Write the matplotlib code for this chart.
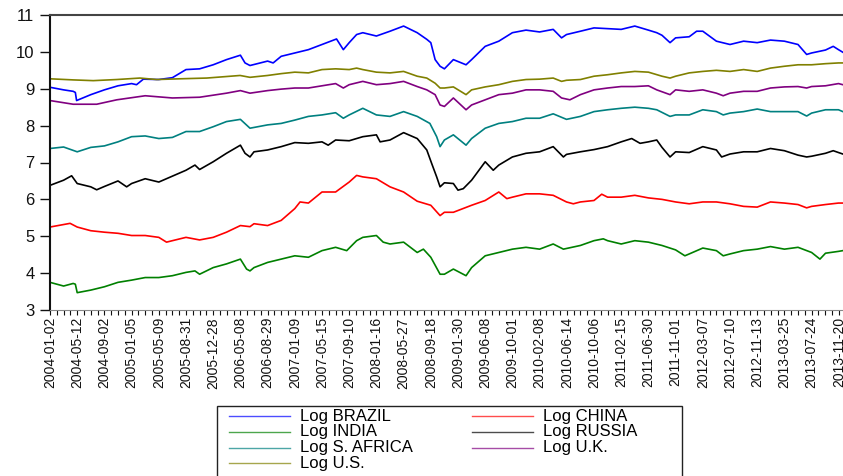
import numpy as np
import matplotlib
matplotlib.use("Agg")
import matplotlib.pyplot as plt
from matplotlib.lines import Line2D
from matplotlib.patches import Rectangle

plt.rcParams['font.family'] = ['Liberation Sans', 'DejaVu Sans']

# observation index (trading days) of each label, one label every 88 obs
tick_labels = [
    "2004-01-02", "2004-05-12", "2004-09-02", "2005-01-05", "2005-05-09",
    "2005-08-31", "2005-12-28", "2006-05-08", "2006-08-29", "2007-01-09",
    "2007-05-15", "2007-09-10", "2008-01-16", "2008-05-27", "2008-09-18",
    "2009-01-30", "2009-06-08", "2009-10-01", "2010-02-08", "2010-06-14",
    "2010-10-06", "2011-02-15", "2011-06-30", "2011-11-01", "2012-03-07",
    "2012-07-10", "2012-11-13", "2013-03-25", "2013-07-24", "2013-11-20",
]
obs_per_label = 88

brazil_obs = [0, 44, 75, 82, 86, 132, 176, 220, 264, 280, 302, 352, 396, 440, 484, 528, 571, 616,
              631, 647, 704, 722, 748, 792, 836, 880, 927, 949, 968, 992, 1012, 1056, 1100, 1144,
              1188, 1219, 1232, 1246, 1262, 1276, 1305, 1346, 1364, 1408, 1452, 1496, 1540, 1584,
              1628, 1655, 1671, 1716, 1760, 1804, 1848, 1892, 1936, 1963, 1980, 2006, 2024, 2068,
              2092, 2112, 2156, 2200, 2244, 2288, 2331, 2376, 2420, 2448, 2464, 2509, 2534, 2551, 2565]
brazil_val = [9.04, 8.97, 8.93, 8.90, 8.68, 8.84, 8.97, 9.08, 9.14, 9.11, 9.26, 9.25, 9.30, 9.52,
              9.54, 9.65, 9.79, 9.91, 9.70, 9.63, 9.75, 9.70, 9.88, 9.97, 10.06, 10.20, 10.35, 10.06,
              10.25, 10.47, 10.52, 10.43, 10.56, 10.70, 10.52, 10.34, 10.25, 9.79, 9.61, 9.54, 9.79,
              9.65, 9.79, 10.15, 10.29, 10.52, 10.59, 10.54, 10.61, 10.38, 10.47, 10.56, 10.65, 10.63,
              10.61, 10.70, 10.59, 10.52, 10.45, 10.25, 10.38, 10.41, 10.56, 10.56, 10.29, 10.20,
              10.29, 10.25, 10.32, 10.29, 10.20, 9.93, 9.97, 10.05, 10.15, 10.06, 9.99]

china_obs = [0, 65, 88, 132, 176, 220, 264, 308, 352, 377, 396, 440, 484, 528, 571, 616, 647, 660,
             704, 748, 792, 809, 836, 880, 924, 968, 992, 1012, 1056, 1100, 1144, 1188, 1232, 1262,
             1276, 1305, 1364, 1408, 1452, 1478, 1496, 1540, 1584, 1628, 1671, 1693, 1716, 1760,
             1785, 1804, 1848, 1892, 1936, 1980, 2024, 2068, 2112, 2156, 2200, 2244, 2288, 2331,
             2376, 2420, 2448, 2464, 2509, 2551, 2565]
china_val = [5.25, 5.35, 5.25, 5.15, 5.11, 5.08, 5.02, 5.02, 4.97, 4.84, 4.88, 4.97, 4.90, 4.97,
             5.11, 5.29, 5.26, 5.34, 5.29, 5.43, 5.75, 5.93, 5.90, 6.20, 6.20, 6.47, 6.65, 6.61,
             6.56, 6.34, 6.20, 5.95, 5.84, 5.56, 5.65, 5.65, 5.84, 5.97, 6.20, 6.02, 6.06, 6.15,
             6.15, 6.11, 5.93, 5.88, 5.93, 5.97, 6.14, 6.06, 6.06, 6.11, 6.04, 6.00, 5.93, 5.88,
             5.93, 5.93, 5.88, 5.81, 5.79, 5.93, 5.90, 5.86, 5.77, 5.81, 5.86, 5.90, 5.90]

india_obs = [0, 44, 75, 82, 88, 132, 176, 220, 264, 308, 352, 396, 440, 469, 484, 528, 571, 616,
             636, 647, 660, 704, 748, 792, 836, 880, 924, 960, 992, 1012, 1056, 1078, 1100, 1144,
             1188, 1208, 1232, 1262, 1276, 1305, 1346, 1364, 1408, 1452, 1496, 1540, 1584, 1628,
             1661, 1716, 1760, 1790, 1804, 1848, 1892, 1936, 1980, 2024, 2054, 2068, 2112, 2156,
             2178, 2200, 2244, 2288, 2331, 2376, 2420, 2464, 2491, 2509, 2551, 2565]
india_val = [3.75, 3.65, 3.72, 3.70, 3.47, 3.54, 3.63, 3.75, 3.81, 3.88, 3.88, 3.93, 4.02, 4.06,
             3.97, 4.15, 4.25, 4.38, 4.11, 4.06, 4.15, 4.29, 4.38, 4.47, 4.43, 4.61, 4.70, 4.61,
             4.88, 4.97, 5.02, 4.84, 4.79, 4.84, 4.56, 4.65, 4.43, 3.97, 3.97, 4.11, 3.93, 4.15,
             4.47, 4.56, 4.65, 4.70, 4.65, 4.79, 4.65, 4.75, 4.88, 4.93, 4.88, 4.79, 4.88, 4.84,
             4.75, 4.63, 4.47, 4.52, 4.68, 4.61, 4.47, 4.52, 4.61, 4.65, 4.72, 4.65, 4.70, 4.56,
             4.38, 4.54, 4.59, 4.61]

russia_obs = [0, 44, 70, 88, 132, 151, 176, 220, 248, 264, 308, 352, 396, 440, 469, 484, 528, 571,
              616, 631, 647, 660, 704, 748, 792, 836, 880, 900, 924, 968, 1012, 1056, 1068, 1100,
              1144, 1188, 1219, 1235, 1251, 1262, 1276, 1305, 1320, 1337, 1364, 1408, 1434, 1452,
              1496, 1540, 1584, 1628, 1661, 1671, 1716, 1760, 1804, 1848, 1882, 1909, 1936, 1963,
              1980, 2006, 2024, 2068, 2112, 2156, 2173, 2200, 2244, 2288, 2331, 2376, 2420, 2448,
              2464, 2509, 2534, 2551, 2565]
russia_val = [6.38, 6.52, 6.64, 6.43, 6.34, 6.26, 6.35, 6.50, 6.34, 6.43, 6.56, 6.47, 6.63, 6.79,
              6.93, 6.81, 7.02, 7.25, 7.47, 7.25, 7.15, 7.29, 7.34, 7.43, 7.54, 7.52, 7.56, 7.47,
              7.61, 7.59, 7.70, 7.75, 7.56, 7.61, 7.81, 7.65, 7.34, 6.97, 6.61, 6.34, 6.45, 6.43,
              6.25, 6.29, 6.52, 7.02, 6.79, 6.93, 7.15, 7.25, 7.29, 7.43, 7.15, 7.22, 7.29, 7.35,
              7.43, 7.56, 7.65, 7.52, 7.56, 7.61, 7.41, 7.15, 7.29, 7.27, 7.43, 7.34, 7.15, 7.23,
              7.29, 7.29, 7.38, 7.32, 7.20, 7.15, 7.17, 7.25, 7.32, 7.27, 7.23]

safrica_obs = [0, 44, 88, 132, 176, 220, 264, 308, 352, 396, 440, 484, 528, 571, 616, 647, 704,
               748, 792, 836, 880, 924, 949, 968, 1012, 1056, 1100, 1144, 1188, 1229, 1251, 1262,
               1276, 1305, 1346, 1364, 1408, 1452, 1496, 1540, 1584, 1628, 1671, 1716, 1760, 1804,
               1848, 1892, 1936, 1963, 2006, 2024, 2068, 2112, 2156, 2178, 2200, 2244, 2288, 2331,
               2376, 2420, 2448, 2464, 2509, 2551, 2565]
safrica_val = [7.38, 7.42, 7.29, 7.41, 7.45, 7.56, 7.70, 7.72, 7.65, 7.68, 7.84, 7.84, 7.97, 8.11,
               8.17, 7.93, 8.02, 8.06, 8.15, 8.25, 8.29, 8.35, 8.20, 8.29, 8.47, 8.29, 8.25, 8.38,
               8.25, 8.06, 7.70, 7.43, 7.61, 7.75, 7.47, 7.65, 7.93, 8.06, 8.11, 8.20, 8.20, 8.32,
               8.17, 8.25, 8.38, 8.43, 8.47, 8.50, 8.47, 8.43, 8.25, 8.29, 8.29, 8.43, 8.38, 8.29,
               8.34, 8.38, 8.45, 8.38, 8.38, 8.38, 8.26, 8.34, 8.43, 8.43, 8.38]

uk_obs = [0, 75, 151, 216, 308, 396, 484, 571, 616, 647, 704, 748, 792, 836, 880, 924, 949, 968,
          1012, 1056, 1100, 1144, 1188, 1219, 1246, 1262, 1276, 1305, 1346, 1364, 1408, 1452, 1496,
          1540, 1584, 1628, 1655, 1682, 1716, 1760, 1804, 1848, 1892, 1936, 1963, 2006, 2024, 2068,
          2112, 2156, 2178, 2200, 2244, 2288, 2331, 2376, 2420, 2448, 2464, 2509, 2551, 2565]
uk_val = [8.68, 8.58, 8.58, 8.70, 8.81, 8.75, 8.77, 8.88, 8.95, 8.88, 8.95, 8.99, 9.02, 9.02, 9.08,
          9.14, 9.02, 9.11, 9.20, 9.11, 9.14, 9.20, 9.06, 8.97, 8.84, 8.56, 8.52, 8.75, 8.43, 8.56,
          8.70, 8.84, 8.88, 8.97, 8.97, 8.93, 8.75, 8.70, 8.84, 8.97, 9.02, 9.06, 9.06, 9.08, 8.97,
          8.84, 8.97, 8.93, 8.97, 8.88, 8.81, 8.88, 8.93, 8.93, 9.02, 9.05, 9.06, 9.02, 9.06, 9.08,
          9.14, 9.11]

us_obs = [0, 75, 140, 216, 291, 345, 421, 507, 615, 647, 704, 748, 792, 836, 880, 924, 968, 992,
          1012, 1056, 1100, 1144, 1188, 1219, 1246, 1262, 1276, 1305, 1346, 1364, 1408, 1452, 1496,
          1540, 1584, 1628, 1655, 1671, 1716, 1760, 1804, 1848, 1892, 1936, 1980, 2006, 2024, 2068,
          2112, 2156, 2200, 2244, 2288, 2331, 2376, 2420, 2464, 2509, 2551, 2565]
us_val = [9.27, 9.24, 9.22, 9.25, 9.29, 9.25, 9.27, 9.29, 9.36, 9.31, 9.36, 9.41, 9.45, 9.43, 9.52,
          9.54, 9.52, 9.56, 9.52, 9.45, 9.43, 9.47, 9.34, 9.29, 9.15, 9.02, 9.02, 9.05, 8.84, 8.97,
          9.05, 9.11, 9.20, 9.25, 9.26, 9.29, 9.20, 9.23, 9.25, 9.34, 9.38, 9.43, 9.47, 9.45, 9.34,
          9.29, 9.34, 9.43, 9.47, 9.50, 9.47, 9.52, 9.47, 9.56, 9.61, 9.65, 9.65, 9.68, 9.70, 9.70]

# legend order follows the two columns of the original
series = [
    ("Log BRAZIL", brazil_obs, brazil_val, "#0000ff"),
    ("Log INDIA", india_obs, india_val, "#008000"),
    ("Log S. AFRICA", safrica_obs, safrica_val, "#008080"),
    ("Log U.S.", us_obs, us_val, "#808000"),
    ("Log CHINA", china_obs, china_val, "#ff0000"),
    ("Log RUSSIA", russia_obs, russia_val, "#000000"),
    ("Log U.K.", uk_obs, uk_val, "#800080"),
]

W, H = 843, 476
fig = plt.figure(figsize=(W / 100, H / 100), dpi=100)


def px(x, y):
    # pixel (from top-left) -> figure fraction
    return x / W, 1 - y / H


px_per_obs = 27.2 / obs_per_label
x_max = 2580
left, top, bottom = 50, 15, 310
ax = fig.add_axes([left / W, 1 - bottom / H, x_max * px_per_obs / W, (bottom - top) / H])

for name, xs, ys, col in series:
    ax.plot(xs, ys, color=col, lw=1.2)

ax.set_xlim(0, x_max)
ax.set_ylim(3, 11)
ax.set_yticks(range(3, 12))
ax.tick_params(axis='y', labelsize=12, length=7.2, width=1, pad=4, colors='#111111')

ticks = np.arange(0, x_max, obs_per_label // 4)
ax.set_xticks(ticks)
ax.set_xticklabels([tick_labels[t // obs_per_label] if t % obs_per_label == 0 and
                    t // obs_per_label < len(tick_labels) else "" for t in ticks],
                   rotation=90, fontsize=10)
ax.tick_params(axis='x', length=3.6, width=0.8, pad=1.5, colors='#111111')

ax.spines['left'].set_linewidth(1.5)
ax.spines['left'].set_color('#111111')
ax.spines['top'].set_linewidth(1.5)
ax.spines['top'].set_color('#444444')
ax.spines['bottom'].set_color('#888888')
ax.spines['right'].set_visible(False)

# legend box, cut by the bottom edge as in the original
x0, y0 = px(217, 406)
x1, _ = px(682, 406)
fig.add_artist(Rectangle((x0, -0.05), x1 - x0, y0 + 0.05, transform=fig.transFigure,
                         fill=False, edgecolor='#222222', lw=1.0))
row_y = [416, 431.8, 447.6, 463.4]
cols = [(229, 290, 300), (472, 533, 543)]
for k, (name, xs, ys, col) in enumerate(series):
    c, r = divmod(k, 4)
    lx0, lx1, tx = cols[c]
    yy = px(0, row_y[r])[1]
    fig.add_artist(Line2D([lx0 / W, lx1 / W], [yy, yy], transform=fig.transFigure,
                          color=col, lw=1.0, alpha=0.7))
    fig.text(tx / W, yy, name, fontsize=12, va='center', ha='left')

fig.savefig("out.png", dpi=100)
